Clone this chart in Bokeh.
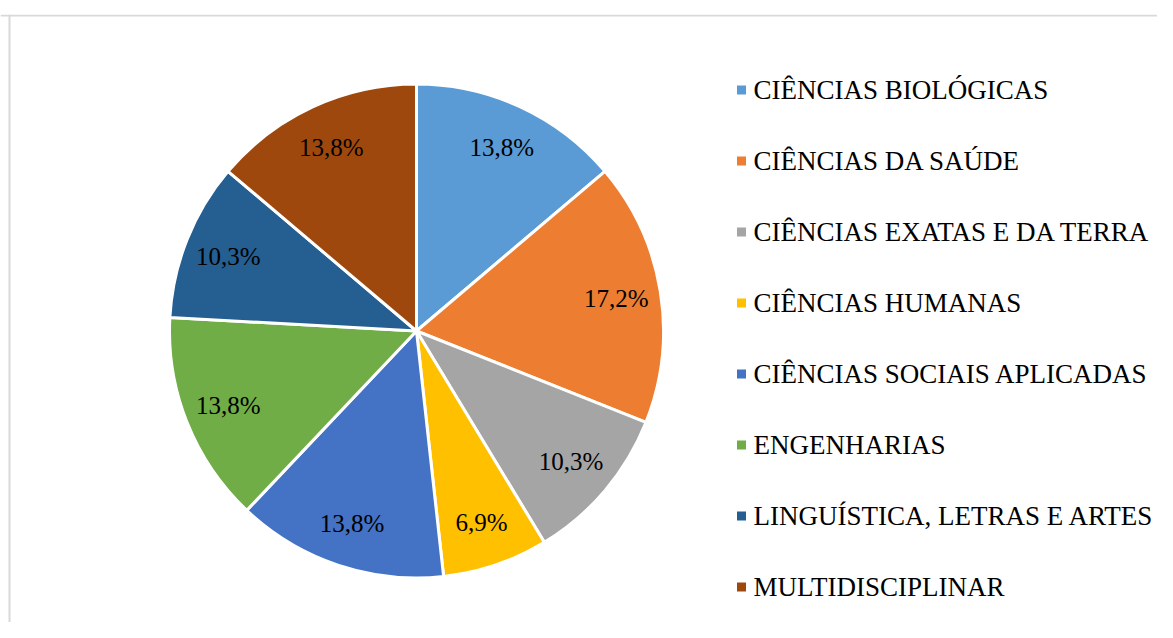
import math
from bokeh.plotting import figure
from bokeh.models import Range1d, Span, ColumnDataSource
from bokeh.core.properties import value
from bokeh.embed import file_html
from bokeh.resources import INLINE

categories = [
    "CIÊNCIAS BIOLÓGICAS",
    "CIÊNCIAS DA SAÚDE",
    "CIÊNCIAS EXATAS E DA TERRA",
    "CIÊNCIAS HUMANAS",
    "CIÊNCIAS SOCIAIS APLICADAS",
    "ENGENHARIAS",
    "LINGUÍSTICA, LETRAS E ARTES",
    "MULTIDISCIPLINAR",
]
percentages = [13.8, 17.2, 10.3, 6.9, 13.8, 13.8, 10.3, 13.8]
colors = ["#5B9BD5", "#ED7D31", "#A5A5A5", "#FFC000", "#4472C4", "#70AD47", "#255E91", "#9E480E"]

FONT = value("Liberation Serif")

W, H = 1157, 622
TOP = 14
p = figure(width=W, height=H, output_backend="svg", toolbar_location=None,
           x_range=Range1d(0, W), y_range=Range1d(0, H - TOP),
           min_border_left=0, min_border_right=0, min_border_bottom=0, min_border_top=TOP)
p.axis.visible = False
p.grid.visible = False
p.outline_line_color = None
p.background_fill_color = "white"
p.border_fill_color = "white"

# chart frame (top and left edges visible in the reference)
p.add_layout(Span(location=9, dimension="height", line_color="#d9d9d9", line_width=2))
p.add_layout(Span(location=H - 15, dimension="width", line_color="#d9d9d9", line_width=2))

cx, cy, R = 416, H - 330.5, 247
total = sum(percentages)
starts, ends, lx, ly, labels = [], [], [], [], []
acc = 0.0
for v in percentages:
    a0 = math.pi / 2 - 2 * math.pi * acc / total
    a1 = math.pi / 2 - 2 * math.pi * (acc + v) / total
    starts.append(a0)
    ends.append(a1)
    mid = (a0 + a1) / 2
    lx.append(cx + 0.82 * R * math.cos(mid))
    ly.append(cy + 0.82 * R * math.sin(mid))
    labels.append(f"{v:.1f}%".replace(".", ","))
    acc += v

src = ColumnDataSource(dict(start=starts, end=ends, color=colors, lx=lx, ly=ly, label=labels))
p.wedge(x=cx, y=cy, radius=R, start_angle="start", end_angle="end", direction="clock",
        fill_color="color", line_color="white", line_width=3, source=src)
p.text(x="lx", y="ly", text="label", source=src, text_font=FONT,
       text_font_size="25px", text_color="#000000", text_align="center", text_baseline="middle")

# legend
leg_y = [H - 89.5 - 71 * i for i in range(len(categories))]
leg_src = ColumnDataSource(dict(y=leg_y, name=categories, color=colors))
p.scatter(x=741, y="y", marker="square", size=9, fill_color="color", line_color=None, source=leg_src)
p.text(x=753, y="y", text="name", source=leg_src, text_font=FONT,
       text_font_size="27px", text_color="#000000", text_align="left", text_baseline="middle")

open("out.html", "w").write(file_html(p, INLINE))
